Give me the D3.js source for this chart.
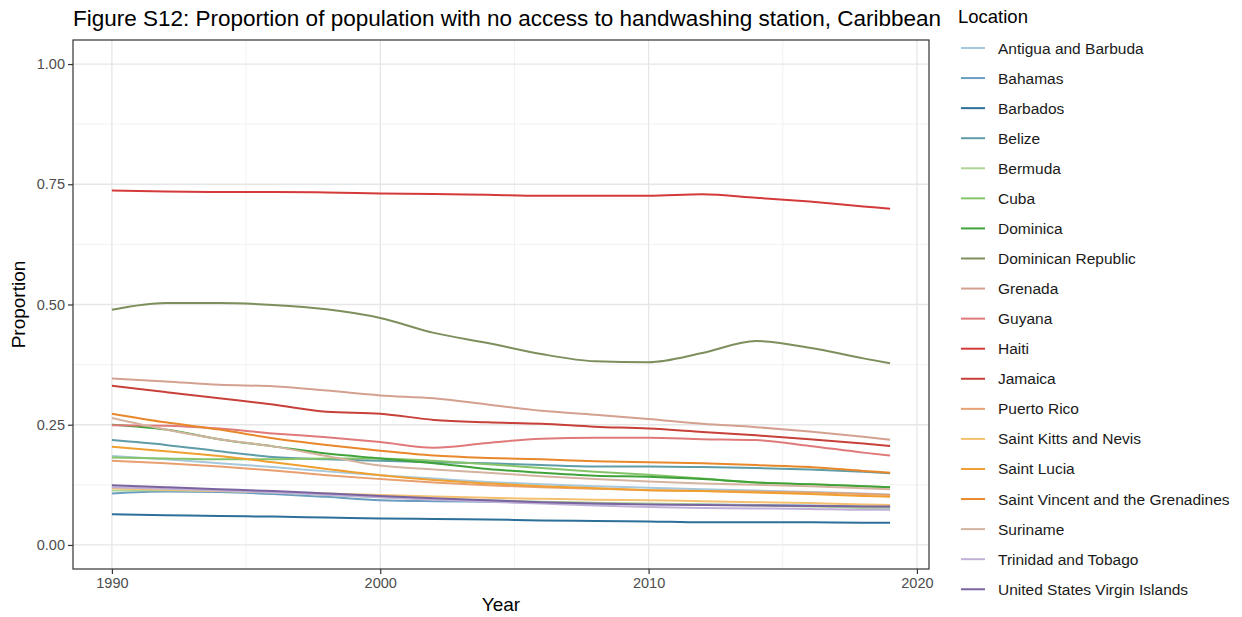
<!DOCTYPE html>
<html><head><meta charset="utf-8">
<script src="https://cdn.jsdelivr.net/npm/d3@7"></script>
<style>body{margin:0;background:#fff}svg{display:block;font-family:"Liberation Sans",Arial,sans-serif}</style>
</head><body><svg id="c" width="1242" height="617"></svg>
<script>
const years = [1990,1992,1994,1996,1998,2000,2002,2004,2006,2008,2010,2012,2014,2016,2018,2019];
const locations = ["Antigua and Barbuda","Bahamas","Barbados","Belize","Bermuda","Cuba","Dominica","Dominican Republic","Grenada","Guyana","Haiti","Jamaica","Puerto Rico","Saint Kitts and Nevis","Saint Lucia","Saint Vincent and the Grenadines","Suriname","Trinidad and Tobago","United States Virgin Islands"];
const colors = ["#a6c8dc","#6a9ec0","#2b6f9a","#5e9da8","#aed498","#86c46a","#3fa33a","#7d8f5c","#d4a090","#e07a7a","#d43a3a","#c8403a","#e8a070","#f5c070","#f0a030","#e8882a","#d4b4a0","#c0b0d8","#7a64a0"];
const antigua   = [0.185,0.178,0.170,0.162,0.153,0.145,0.138,0.131,0.126,0.122,0.119,0.116,0.113,0.110,0.107,0.105];
const bahamas   = [0.107,0.111,0.110,0.106,0.100,0.093,0.091,0.090,0.088,0.086,0.085,0.084,0.083,0.082,0.080,0.079];
const barbados  = [0.064,0.062,0.060,0.059,0.057,0.055,0.054,0.053,0.051,0.050,0.049,0.047,0.047,0.047,0.046,0.046];
const belize    = [0.218,0.208,0.195,0.183,0.178,0.175,0.172,0.170,0.166,0.163,0.163,0.162,0.160,0.157,0.152,0.149];
const bermuda   = [0.113,0.114,0.112,0.109,0.104,0.099,0.096,0.093,0.090,0.088,0.086,0.084,0.082,0.080,0.077,0.076];
const cuba      = [0.182,0.180,0.178,0.178,0.180,0.180,0.175,0.168,0.160,0.152,0.146,0.138,0.130,0.126,0.122,0.120];
const dominica  = [0.250,0.240,0.220,0.205,0.190,0.180,0.170,0.158,0.150,0.144,0.142,0.137,0.130,0.126,0.122,0.120];
const domRep    = [0.489,0.503,0.503,0.499,0.490,0.472,0.441,0.420,0.397,0.382,0.380,0.399,0.424,0.410,0.388,0.378];
const grenada   = [0.346,0.340,0.333,0.330,0.321,0.311,0.305,0.292,0.279,0.271,0.262,0.252,0.245,0.236,0.225,0.219];
const guyana    = [0.249,0.248,0.242,0.232,0.224,0.214,0.202,0.212,0.221,0.223,0.223,0.220,0.218,0.206,0.192,0.186];
const haiti     = [0.737,0.735,0.734,0.734,0.733,0.731,0.730,0.728,0.726,0.726,0.726,0.729,0.722,0.714,0.704,0.699];
const jamaica   = [0.331,0.318,0.305,0.292,0.277,0.273,0.260,0.255,0.252,0.246,0.242,0.235,0.228,0.220,0.211,0.206];
const puertoRico= [0.175,0.170,0.163,0.155,0.145,0.137,0.130,0.124,0.120,0.117,0.114,0.112,0.111,0.109,0.106,0.104];
const stKitts   = [0.118,0.115,0.112,0.110,0.107,0.104,0.101,0.098,0.096,0.094,0.093,0.091,0.089,0.087,0.084,0.083];
const stLucia   = [0.204,0.195,0.185,0.172,0.158,0.145,0.135,0.128,0.122,0.118,0.114,0.112,0.109,0.106,0.102,0.100];
const stVincent = [0.273,0.255,0.240,0.222,0.208,0.196,0.186,0.181,0.178,0.174,0.172,0.170,0.166,0.162,0.154,0.150];
const suriname  = [0.264,0.240,0.220,0.205,0.185,0.165,0.157,0.150,0.143,0.137,0.132,0.128,0.125,0.122,0.118,0.116];
const trinidad  = [0.120,0.117,0.113,0.109,0.104,0.099,0.094,0.090,0.086,0.082,0.079,0.077,0.076,0.075,0.073,0.073];
const usvi      = [0.124,0.120,0.116,0.112,0.107,0.102,0.097,0.093,0.089,0.086,0.084,0.083,0.082,0.081,0.080,0.080];
const seriesValues = [antigua,bahamas,barbados,belize,bermuda,cuba,dominica,domRep,grenada,guyana,haiti,jamaica,puertoRico,stKitts,stLucia,stVincent,suriname,trinidad,usvi];
const yTicks = [0,0.25,0.5,0.75,1];
const yTickLabels = ["0.00","0.25","0.50","0.75","1.00"];
const xTicks = [1990,2000,2010,2020];
const title = "Figure S12: Proportion of population with no access to handwashing station, Caribbean";

const svg = d3.select("#c");
const P = {l:73, r:929, t:40, b:569};
const x = d3.scaleLinear().domain([1988.55,2020.45]).range([P.l,P.r]);
const y = d3.scaleLinear().domain([-0.05,1.05]).range([P.b,P.t]);

const grid = svg.append("g");
[0.125,0.375,0.625,0.875].forEach(v=>grid.append("line").attr("x1",P.l).attr("x2",P.r).attr("y1",y(v)).attr("y2",y(v)).attr("stroke","#ebebeb").attr("stroke-width",0.7));
[1995,2005,2015].forEach(v=>grid.append("line").attr("y1",P.t).attr("y2",P.b).attr("x1",x(v)).attr("x2",x(v)).attr("stroke","#ebebeb").attr("stroke-width",0.7));
yTicks.forEach(v=>grid.append("line").attr("x1",P.l).attr("x2",P.r).attr("y1",y(v)).attr("y2",y(v)).attr("stroke","#e6e6e6").attr("stroke-width",1.3));
xTicks.forEach(v=>grid.append("line").attr("y1",P.t).attr("y2",P.b).attr("x1",x(v)).attr("x2",x(v)).attr("stroke","#e6e6e6").attr("stroke-width",1.3));

const line = d3.line().x((d,i)=>x(years[i])).y(d=>y(d)).curve(d3.curveMonotoneX);
const lg = svg.append("g");
seriesValues.forEach((vals,k)=>{
  lg.append("path").attr("d",line(vals)).attr("fill","none").attr("stroke",colors[k]).attr("stroke-width",2).attr("stroke-linejoin","round");
});

svg.append("rect").attr("x",P.l).attr("y",P.t).attr("width",P.r-P.l).attr("height",P.b-P.t).attr("fill","none").attr("stroke","#333").attr("stroke-width",1.2);

const yAxis = d3.axisLeft(y).tickValues(yTicks).tickFormat((d,i)=>yTickLabels[i]).tickSize(5).tickPadding(3);
const ya = svg.append("g").attr("transform",`translate(${P.l},0)`).call(yAxis);
const xAxis = d3.axisBottom(x).tickValues(xTicks).tickFormat(d3.format("d")).tickSize(5).tickPadding(4);
const xa = svg.append("g").attr("transform",`translate(0,${P.b})`).call(xAxis);
[ya,xa].forEach(a=>{
  a.select(".domain").remove();
  a.selectAll(".tick line").attr("stroke","#333").attr("stroke-width",1.2);
  a.selectAll(".tick text").attr("fill","#4d4d4d").style("font-size","14.5px").style("font-family","'Liberation Sans',Arial,sans-serif");
});

svg.append("text").attr("x",P.l).attr("y",26).text(title).style("font-size","22.5px").attr("fill","#000");
svg.append("text").attr("x",(P.l+P.r)/2).attr("y",611).attr("text-anchor","middle").text("Year").style("font-size","19px");
svg.append("text").attr("transform",`translate(25,${(P.t+P.b)/2}) rotate(-90)`).attr("text-anchor","middle").text("Proportion").style("font-size","19px");

const leg = svg.append("g");
leg.append("text").attr("x",958).attr("y",23).text("Location").style("font-size","18.5px");
locations.forEach((name,i)=>{
  const cy = 48 + i*30.07;
  leg.append("line").attr("x1",961).attr("x2",985).attr("y1",cy).attr("y2",cy).attr("stroke",colors[i]).attr("stroke-width",2);
  leg.append("text").attr("x",998).attr("y",cy+5.5).text(name).style("font-size","15.5px").attr("fill","#1a1a1a");
});
</script></body></html>
